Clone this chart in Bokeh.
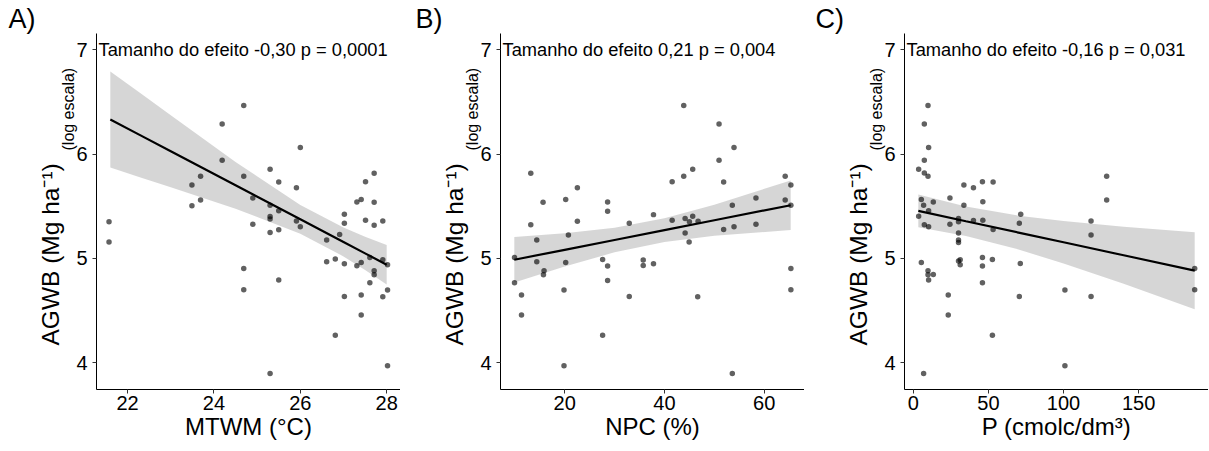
from bokeh.plotting import figure
from bokeh.models import Range1d, Label, FixedTicker, Title
from bokeh.layouts import row
from bokeh.embed import file_html
from bokeh.resources import INLINE

# ---------------- data ----------------
a_x = [24.69, 24.19, 24.19, 24.69, 23.69, 23.49, 23.69, 23.49, 21.57, 21.57, 24.69, 24.69,
       26.00, 25.30, 25.50, 25.91, 24.90, 25.30, 25.50, 25.30, 25.30, 25.91, 24.90, 26.00,
       25.30, 25.50, 25.50, 25.30, 27.71, 27.51, 27.31, 27.41, 27.71, 27.02, 27.02, 27.51,
       27.71, 27.91, 26.91, 26.61, 26.61, 26.81, 27.02, 27.31, 27.41, 27.61, 27.91, 28.02,
       27.71, 27.71, 27.61, 28.02, 27.02, 27.41, 27.91, 27.41, 26.81, 28.02]
a_y = [6.465, 6.287, 5.940, 5.787, 5.787, 5.704, 5.561, 5.506, 5.351, 5.157, 4.904, 4.701,
       6.064, 5.854, 5.733, 5.678, 5.580, 5.510, 5.456, 5.401, 5.379, 5.360, 5.329, 5.303,
       5.248, 5.274, 4.794, 3.899, 5.816, 5.735, 5.542, 5.564, 5.539, 5.424, 5.338, 5.367,
       5.319, 5.360, 5.229, 5.176, 4.968, 4.994, 4.949, 4.930, 4.962, 5.010, 4.988, 4.940,
       4.883, 4.844, 4.768, 4.698, 4.637, 4.650, 4.634, 4.459, 4.265, 3.972]

b_x = [13.2, 22.54, 15.66, 20.2, 28.6, 28.6, 13.2, 22.54, 32.94, 14.4, 20.74, 9.94,
       14.4, 20.2, 27.6, 28.6, 35.74, 35.74, 15.86, 15.74, 9.94, 28.6, 19.86, 11.34,
       32.94, 11.34, 27.6, 19.86, 43.86, 50.94, 53.94, 50.94, 45.66, 43.86, 41.54, 51.86,
       64.2, 65.34, 58.34, 64.2, 53.6, 65.34, 37.8, 41.54, 44.14, 45.66, 45.0, 46.74,
       44.14, 51.86, 53.94, 58.34, 44.94, 37.8, 65.34, 65.34, 46.66, 53.6]
b_y = [5.816, 5.678, 5.539, 5.564, 5.542, 5.453, 5.322, 5.357, 5.338, 5.176, 5.226, 5.010,
       4.968, 4.962, 4.990, 4.927, 4.985, 4.933, 4.883, 4.844, 4.768, 4.790, 4.698, 4.650,
       4.637, 4.459, 4.265, 3.972, 6.465, 6.287, 6.064, 5.940, 5.854, 5.787, 5.735, 5.733,
       5.787, 5.704, 5.580, 5.561, 5.510, 5.510, 5.420, 5.367, 5.382, 5.405, 5.351, 5.357,
       5.245, 5.277, 5.303, 5.329, 5.157, 4.949, 4.904, 4.701, 4.634, 3.899]

c_x = [9.75, 7.30, 10.15, 7.30, 3.52, 7.30, 9.75, 33.64, 40.01, 45.99, 53.09, 5.31,
       13.27, 24.35, 46.25, 6.83, 33.64, 10.15, 3.52, 30.06, 30.06, 40.01, 46.25, 24.35,
       7.30, 10.15, 53.09, 30.06, 30.06, 30.06, 5.31, 30.06, 31.19, 31.19, 45.99, 52.62,
       45.99, 9.75, 9.75, 13.27, 10.15, 45.99, 23.22, 23.22, 52.62, 6.83, 128.7, 128.7,
       71.47, 70.54, 118.3, 118.3, 71.2, 187.3, 187.3, 100.9, 70.54, 118.3, 100.9]
c_y = [6.465, 6.287, 6.064, 5.940, 5.854, 5.819, 5.787, 5.704, 5.678, 5.735, 5.733, 5.564,
       5.542, 5.580, 5.544, 5.510, 5.510, 5.456, 5.405, 5.382, 5.351, 5.363, 5.367, 5.329,
       5.322, 5.303, 5.277, 5.245, 5.176, 5.153, 4.962, 4.975, 4.988, 4.940, 5.010, 4.990,
       4.927, 4.883, 4.844, 4.847, 4.794, 4.768, 4.650, 4.459, 4.265, 3.899, 5.787, 5.561,
       5.424, 5.338, 5.360, 5.226, 4.953, 4.904, 4.701, 4.698, 4.637, 4.637, 3.972]

# fitted lines and confidence bands
a_fit_x = [21.6, 22.3, 23.0, 24.5, 26.0, 27.0, 27.5, 28.0]
a_fit_y = [6.331, 6.179, 6.027, 5.701, 5.375, 5.158, 5.049, 4.940]
a_ci_lo = [5.871, 5.775, 5.683, 5.477, 5.237, 5.020, 4.890, 4.750]
a_ci_hi = [6.791, 6.583, 6.371, 5.925, 5.513, 5.296, 5.208, 5.130]

b_fit_x = [9.9, 20, 30, 40, 50, 65.3]
b_fit_y = [4.988, 5.083, 5.177, 5.271, 5.366, 5.510]
b_ci_lo = [4.770, 4.924, 5.059, 5.157, 5.217, 5.272]
b_ci_hi = [5.206, 5.242, 5.295, 5.385, 5.515, 5.748]

c_fit_x = [3.3, 35, 70, 100, 140, 187.3]
c_fit_y = [5.456, 5.357, 5.248, 5.155, 5.031, 4.883]
c_ci_lo = [5.298, 5.216, 5.086, 4.952, 4.757, 4.514]
c_ci_hi = [5.614, 5.498, 5.410, 5.358, 5.305, 5.252]

a_ticks = [22, 24, 26, 28]
b_ticks = [20, 40, 60]
c_ticks = [0, 50, 100, 150]
y_ticks = [4, 5, 6, 7]

x_titles = ["MTWM (°C)", "NPC (%)", "P (cmolc/dm³)"]
letters = ["A)", "B)", "C)"]
annots = ["Tamanho do efeito -0,30 p = 0,0001",
          "Tamanho do efeito 0,21 p = 0,004",
          "Tamanho do efeito -0,16 p = 0,031"]
y_title_main = "AGWB (Mg ha⁻¹)"
y_title_sub = "(log escala)"

FONT = "Liberation Sans"
FW, FH = 304, 356


def panel(xs, ys, fx, fy, lo, hi, xr, xticks, xtitle, letter, annot, left, letter_dx):
    p = figure(frame_width=FW, frame_height=FH, x_range=Range1d(*xr),
               y_range=Range1d(3.745, 7.155), output_backend="svg",
               toolbar_location=None, min_border_left=left, min_border_right=0,
               min_border_top=33, min_border_bottom=0, title=letter)
    p.outline_line_color = None
    p.grid.visible = False
    p.background_fill_color = "white"

    # panel letter (plot title, shifted to the left edge)
    p.title.align = "left"
    p.title.offset = -left + letter_dx
    p.title.text_font = FONT
    p.title.text_font_size = "27px"
    p.title.text_font_style = "normal"
    p.title.text_color = "black"
    p.title.standoff = 0

    for ax in (p.xaxis[0], p.yaxis[0]):
        ax.axis_line_color = "black"
        ax.axis_line_width = 1
        ax.major_tick_line_color = "#333333"
        ax.major_tick_out = 4
        ax.major_tick_in = 0
        ax.minor_tick_line_color = None
        ax.major_label_text_font = FONT
        ax.major_label_text_font_size = "20px"
        ax.major_label_text_color = "black"
    p.xaxis[0].ticker = FixedTicker(ticks=xticks)
    p.yaxis[0].ticker = FixedTicker(ticks=y_ticks)
    p.xaxis[0].major_label_standoff = 2
    p.yaxis[0].major_label_standoff = 5
    p.xaxis[0].axis_label = xtitle
    p.xaxis[0].axis_label_text_font = FONT
    p.xaxis[0].axis_label_text_font_size = "24px"
    p.xaxis[0].axis_label_text_font_style = "normal"
    p.xaxis[0].axis_label_text_color = "black"
    p.xaxis[0].axis_label_standoff = 0

    # y title: subscript part next to the axis, main part outside it
    sub = Title(text=y_title_sub, align="left", offset=239, standoff=-6,
                text_font=FONT, text_font_size="16px", text_font_style="normal",
                text_color="black")
    main = Title(text=y_title_main, align="left", offset=44, standoff=-7,
                 text_font=FONT, text_font_size="24.5px", text_font_style="normal",
                 text_color="black")
    p.add_layout(sub, "left")
    p.add_layout(main, "left")

    p.varea(x=fx, y1=lo, y2=hi, fill_color="#999999", fill_alpha=0.4)
    p.line(fx, fy, line_color="black", line_width=2.2)
    p.scatter(xs, ys, size=5.5, fill_color="black", fill_alpha=0.62,
              line_color=None)

    # annotation text at y = 7
    p.add_layout(Label(x=2, y=7, x_units="screen", y_units="data", text=annot,
                       text_font=FONT, text_font_size="18.3px", text_color="black",
                       text_baseline="middle", text_align="left"))
    return p


pa = panel(a_x, a_y, a_fit_x, a_fit_y, a_ci_lo, a_ci_hi, (21.28, 28.32), a_ticks,
           x_titles[0], letters[0], annots[0], 96, 8)
pb = panel(b_x, b_y, b_fit_x, b_fit_y, b_ci_lo, b_ci_hi, (7.13, 68.07), b_ticks,
           x_titles[1], letters[1], annots[1], 100, 15)
pc = panel(c_x, c_y, c_fit_x, c_fit_y, c_ci_lo, c_ci_hi, (-5.9, 196.5), c_ticks,
           x_titles[2], letters[2], annots[2], 100, 11)

layout = row(pa, pb, pc)
open("out.html", "w").write(file_html(layout, INLINE))
